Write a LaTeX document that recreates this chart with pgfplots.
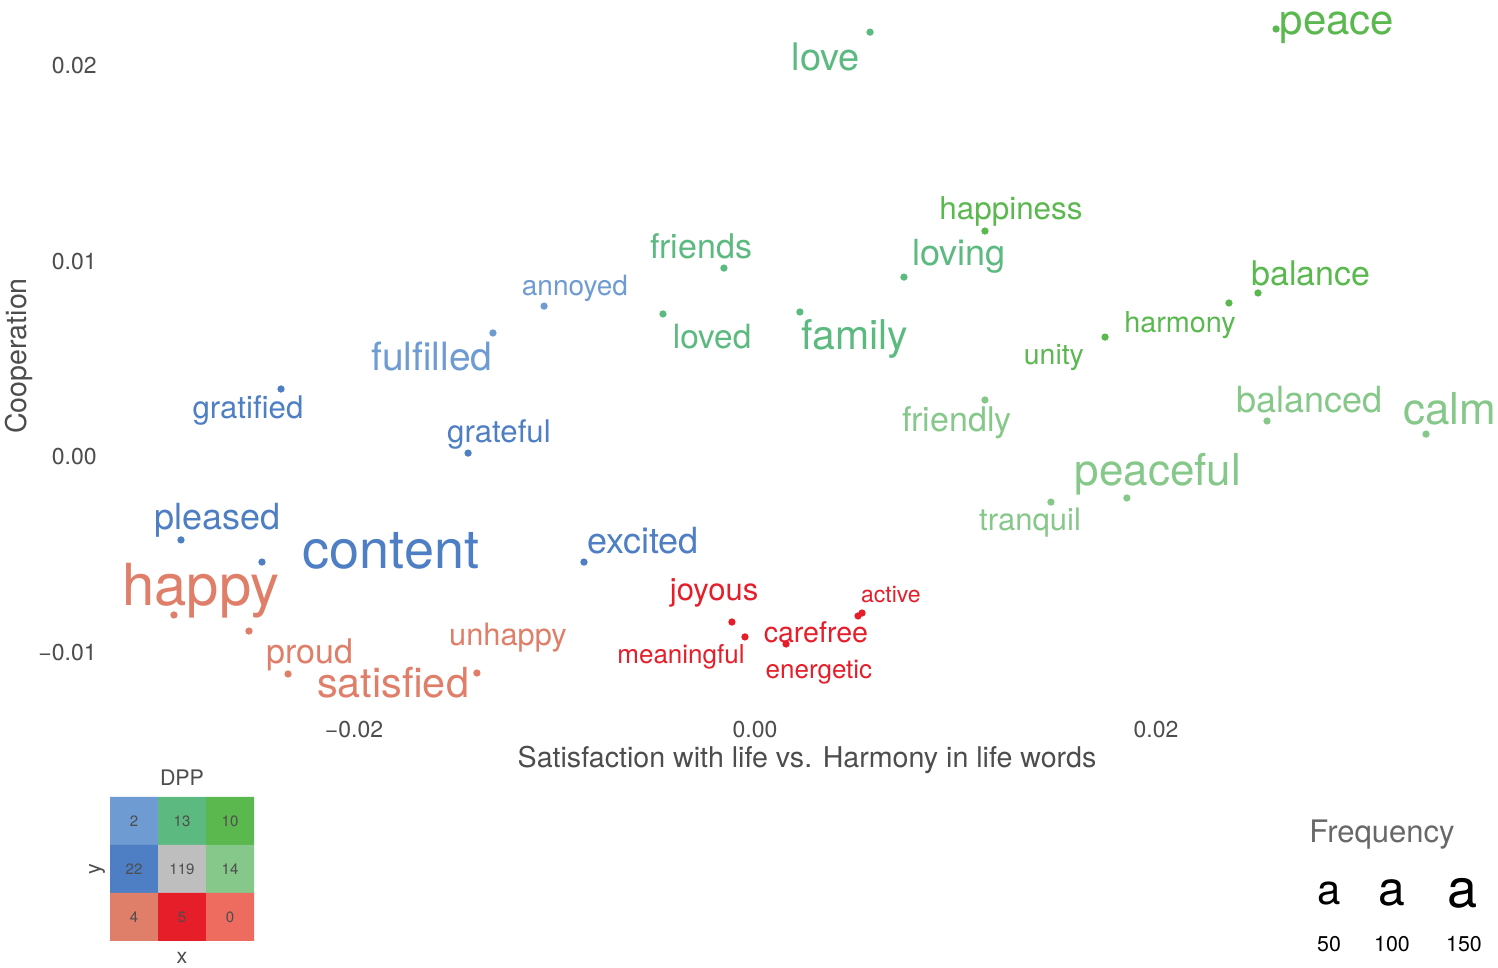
\documentclass[border=0pt]{standalone}
\usepackage{pgfplots}
\pgfplotsset{compat=1.18}
\usepackage{pgfplotstable}
\usepackage{fontspec}
\setmainfont{TeX Gyre Heros}

\definecolor{cBlueL}{HTML}{6E9BD2}
\definecolor{cBlue}{HTML}{4E7EC3}
\definecolor{cTeal}{HTML}{5CBA80}
\definecolor{cGreen}{HTML}{5AB84F}
\definecolor{cGreenL}{HTML}{86C78A}
\definecolor{cSalmon}{HTML}{E07F69}
\definecolor{cRed}{HTML}{E51E2A}
\definecolor{cRedL}{HTML}{EE6B60}
\definecolor{cGray}{HTML}{BEBEBE}
\definecolor{txtgray}{HTML}{4D4D4D}

% word, label position (lx, ly), point position (x, y), font size
\pgfplotstableread{
word lx ly x y fs
love 0.00354 0.02041 0.00574 0.02168 19
friends -0.00269 0.01077 -0.00155 0.00964 17
loving 0.01017 0.01026 0.00743 0.00918 18
loved -0.00214 0.00617 -0.00459 0.0073 16.7
family 0.00499 0.00602 0.00224 0.0074 20.5
}\teal
\pgfplotstableread{
word lx ly x y fs
peace 0.02903 0.02189 0.02599 0.02184 21
happiness 0.01277 0.01255 0.01147 0.01153 15.7
balance 0.02773 0.00939 0.02509 0.00837 17
harmony 0.0212 0.00673 0.02364 0.00786 14.4
unity 0.01491 0.00505 0.01746 0.00612 14.2
}\green
\pgfplotstableread{
word lx ly x y fs
friendly 0.01007 0.00173 0.01147 0.00291 17
balanced 0.02768 0.00291 0.02554 0.00184 18
calm 0.03466 0.00245 0.03347 0.00117 22
peaceful 0.0201 -0.00087 0.01855 -0.00209 22
tranquil 0.01372 -0.00337 0.01476 -0.0023 15.5
}\greenl
\pgfplotstableread{
word lx ly x y fs
annoyed -0.00898 0.00862 -0.01052 0.0077 14
fulfilled -0.01611 0.00515 -0.01307 0.00633 19.5
}\bluel
\pgfplotstableread{
word lx ly x y fs
gratified -0.02529 0.00235 -0.02364 0.00347 15.6
grateful -0.01277 0.00117 -0.01431 0.0002 15.6
pleased -0.02683 -0.00321 -0.02863 -0.00423 18
content -0.01815 -0.0048 -0.02459 -0.00536 27
excited -0.00559 -0.00429 -0.00853 -0.00536 18
}\blue
\pgfplotstableread{
word lx ly x y fs
happy -0.02763 -0.00684 -0.02898 -0.00806 29
proud -0.02219 -0.0101 -0.02524 -0.00888 17
satisfied -0.01805 -0.01153 -0.02329 -0.01107 20.7
unhappy -0.01232 -0.00923 -0.01387 -0.01102 15.4
}\salmon
\pgfplotstableread{
word lx ly x y fs
joyous -0.00204 -0.00694 -0.00115 -0.00842 15.5
meaningful -0.00369 -0.0102 -0.0005 -0.00918 13
carefree 0.00304 -0.00893 0.00155 -0.00954 14.3
energetic 0.00319 -0.01097 0.00534 -0.00796 13
active 0.00678 -0.00704 0.00514 -0.00811 11.5
}\red

\pgfplotstableread{
x y n
0.5 2.5 2
1.5 2.5 13
2.5 2.5 10
0.5 1.5 22
1.5 1.5 119
2.5 1.5 14
0.5 0.5 4
1.5 0.5 5
2.5 0.5 0
}\dpptable

\pgfplotsset{
  words/.style={draw=none, mark=none, nodes near coords, point meta=explicit symbolic,
    visualization depends on={\thisrow{fs} \as \wfs},
    nodes near coords style={anchor=center, inner sep=0pt, text=#1,
      font=\fontsize{\wfs}{\wfs}\selectfont}},
  dots/.style={only marks, mark=*, mark size=1.6pt, color=#1},
}

\begin{document}
\begin{tikzpicture}
\useasboundingbox (0,0) rectangle (749pt,484pt);

\begin{axis}[
  at={(52.5pt,128pt)}, anchor=south west,
  scale only axis, width=696.5pt, height=356pt,
  xmin=-0.03242, xmax=0.03706, ymin=-0.01301, ymax=0.02332,
  axis line style={draw=none}, tick style={draw=none}, major tick length=0pt,
  xtick={-0.02,0,0.02}, xticklabels={−0.02,0.00,0.02},
  ytick={-0.01,0,0.01,0.02}, yticklabels={−0.01,0.00,0.01,0.02},
  ticklabel style={font=\fontsize{11.5}{13}\selectfont, text=txtgray},
  yticklabel style={anchor=east, inner sep=0pt, xshift=-4pt},
  xticklabel style={anchor=north, inner sep=0pt, yshift=-4.5pt},
  scaled ticks=false,
  xlabel={Satisfaction with life vs. Harmony in life words},
  ylabel={Cooperation},
  label style={font=\fontsize{14.3}{16}\selectfont, text=txtgray},
  xlabel style={at={(axis description cs:0.504,-0.0674)}, anchor=center},
  ylabel style={at={(axis description cs:-0.0620,0.5)}, anchor=center},
  clip=false,
]
\addplot[dots=cTeal] table[x=x, y=y] \teal;
\addplot[dots=cGreen] table[x=x, y=y] \green;
\addplot[dots=cGreenL] table[x=x, y=y] \greenl;
\addplot[dots=cBlueL] table[x=x, y=y] \bluel;
\addplot[dots=cBlue] table[x=x, y=y] \blue;
\addplot[dots=cSalmon] table[x=x, y=y] \salmon;
\addplot[dots=cRed] table[x=x, y=y] \red;

\addplot[words=cTeal] table[x=lx, y=ly, meta=word] \teal;
\addplot[words=cGreen] table[x=lx, y=ly, meta=word] \green;
\addplot[words=cGreenL] table[x=lx, y=ly, meta=word] \greenl;
\addplot[words=cBlueL] table[x=lx, y=ly, meta=word] \bluel;
\addplot[words=cBlue] table[x=lx, y=ly, meta=word] \blue;
\addplot[words=cSalmon] table[x=lx, y=ly, meta=word] \salmon;
\addplot[words=cRed] table[x=lx, y=ly, meta=word] \red;
\end{axis}

% DPP inset
\begin{axis}[
  at={(55pt,13.5pt)}, anchor=south west,
  scale only axis, width=72pt, height=72pt,
  xmin=0, xmax=3, ymin=0, ymax=3, hide axis, clip=false]
\addplot[fill=cBlueL, draw=none] coordinates {(0,2)(1,2)(1,3)(0,3)(0,2)};
\addplot[fill=cTeal, draw=none] coordinates {(1,2)(2,2)(2,3)(1,3)(1,2)};
\addplot[fill=cGreen, draw=none] coordinates {(2,2)(3,2)(3,3)(2,3)(2,2)};
\addplot[fill=cBlue, draw=none] coordinates {(0,1)(1,1)(1,2)(0,2)(0,1)};
\addplot[fill=cGray, draw=none] coordinates {(1,1)(2,1)(2,2)(1,2)(1,1)};
\addplot[fill=cGreenL, draw=none] coordinates {(2,1)(3,1)(3,2)(2,2)(2,1)};
\addplot[fill=cSalmon, draw=none] coordinates {(0,0)(1,0)(1,1)(0,1)(0,0)};
\addplot[fill=cRed, draw=none] coordinates {(1,0)(2,0)(2,1)(1,1)(1,0)};
\addplot[fill=cRedL, draw=none] coordinates {(2,0)(3,0)(3,1)(2,1)(2,0)};
\addplot[draw=none, mark=none, nodes near coords, point meta=explicit symbolic,
  nodes near coords style={anchor=center, inner sep=0pt, text=txtgray,
    font=\fontsize{7.5}{9}\selectfont}]
  table[x=x, y=y, meta=n] \dpptable;
\end{axis}
\node[text=txtgray, font=\fontsize{10.7}{12}\selectfont] at (91pt,95pt) {DPP};
\node[text=txtgray, font=\fontsize{10.7}{12}\selectfont, rotate=90] at (48.5pt,49.5pt) {y};
\node[text=txtgray, font=\fontsize{10.7}{12}\selectfont] at (91pt,5pt) {x};

% Frequency legend
\node[text=txtgray!85, font=\fontsize{15.5}{17}\selectfont] at (691pt,66.5pt) {Frequency};
\node[font=\fontsize{21}{21}\selectfont, inner sep=0pt] at (664.5pt,37.5pt) {a};
\node[font=\fontsize{24}{24}\selectfont, inner sep=0pt] at (696pt,37.5pt) {a};
\node[font=\fontsize{27}{27}\selectfont, inner sep=0pt] at (731pt,37.5pt) {a};
\node[font=\fontsize{10.7}{12}\selectfont] at (664.5pt,12pt) {50};
\node[font=\fontsize{10.7}{12}\selectfont] at (696pt,12pt) {100};
\node[font=\fontsize{10.7}{12}\selectfont] at (732pt,12pt) {150};
\end{tikzpicture}
\end{document}
